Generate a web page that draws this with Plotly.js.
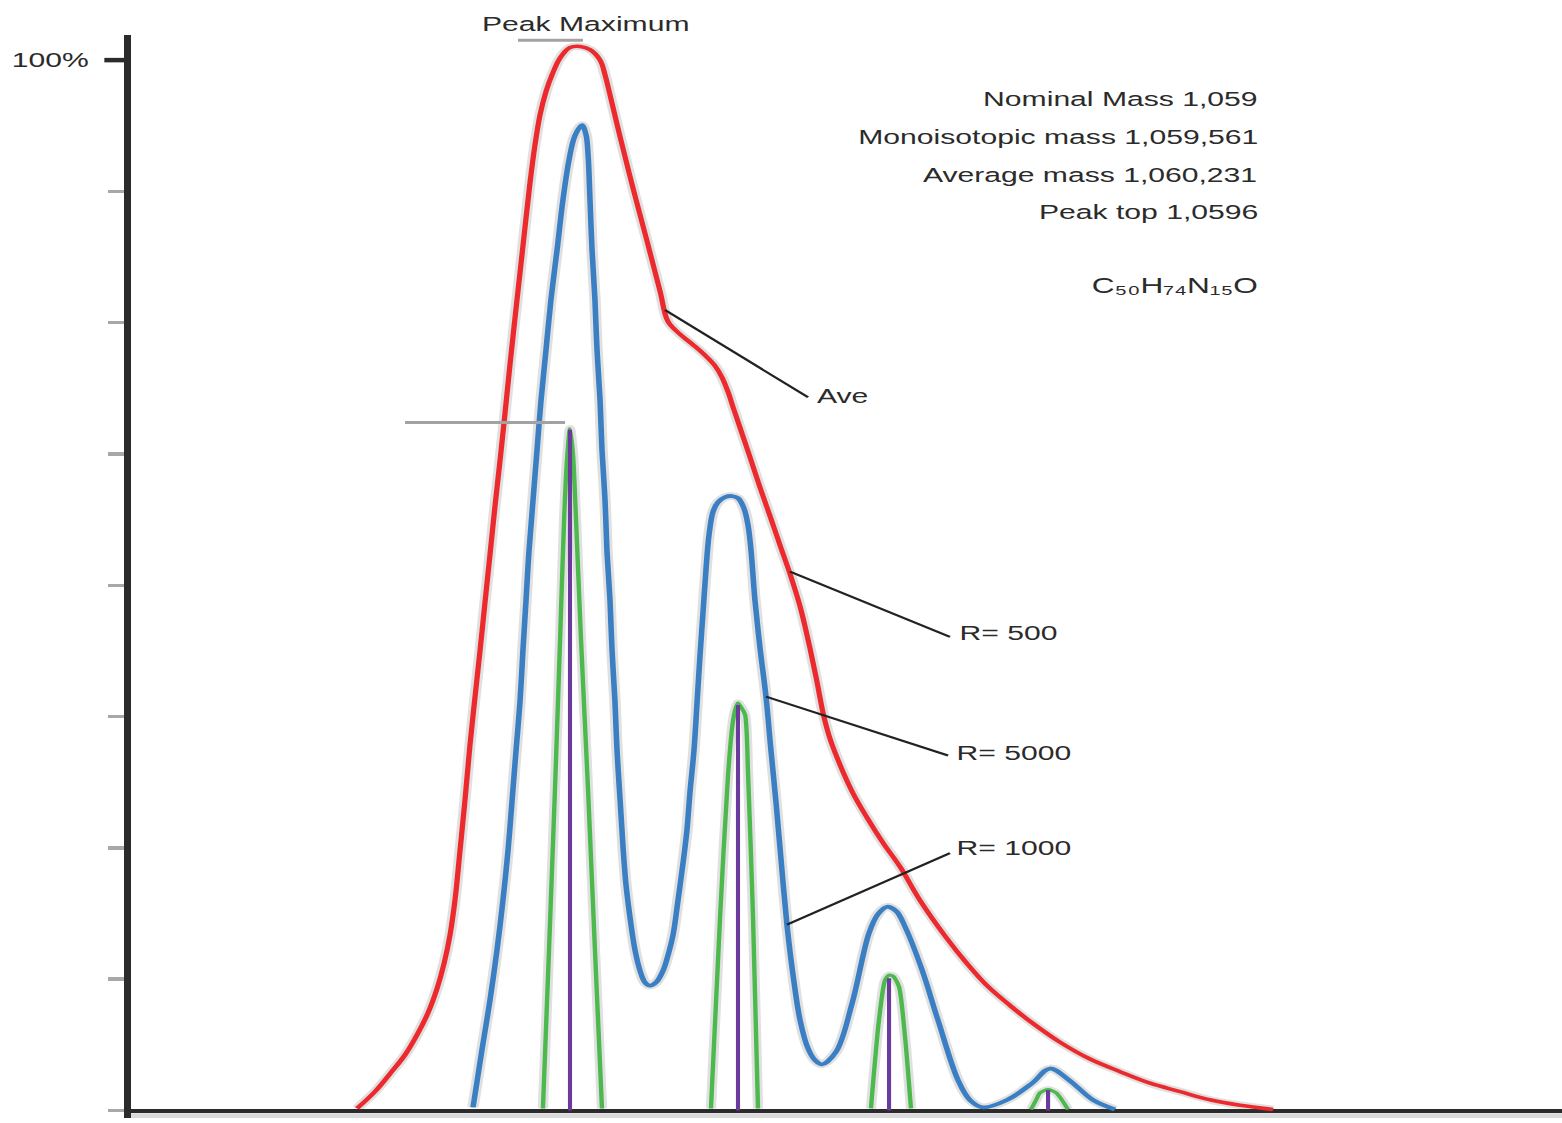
<!DOCTYPE html>
<html>
<head>
<meta charset="utf-8">
<script src="https://cdn.plot.ly/plotly-3.0.1.min.js"></script>
<style>
html,body{margin:0;padding:0;background:#fff;overflow:hidden}
#chart{width:1063px;height:1123px;transform:scaleX(1.46943);transform-origin:0 0}
</style>
</head>
<body>
<div id="chart"></div>
<script>
// ---- data (x: m/z, y: relative intensity %) ----
const redMz = [1058.230,1058.342,1058.436,1058.530,1058.605,1058.674,1058.730,1058.774,1058.811,1058.842,1058.874,1058.905,1058.936,1058.967,1058.999,1059.030,1059.061,1059.092,1059.124,1059.155,1059.186,1059.217,1059.249,1059.280,1059.311,1059.342,1059.374,1059.411,1059.449,1059.499,1059.561,1059.624,1059.686,1059.749,1059.780,1059.811,1059.874,1059.955,1060.042,1060.124,1060.174,1060.249,1060.330,1060.405,1060.467,1060.511,1060.549,1060.586,1060.624,1060.686,1060.749,1060.811,1060.874,1060.936,1060.999,1061.061,1061.105,1061.142,1061.186,1061.249,1061.330,1061.417,1061.517,1061.624,1061.749,1061.911,1062.042,1062.167,1062.311,1062.436,1062.624,1062.811,1062.999,1063.186,1063.374,1063.567,1063.749,1063.955];
const redPct = [0.2,1.8,3.5,5.3,7.2,9.3,11.6,14.0,16.7,20.0,24.8,29.6,34.8,39.3,43.8,48.4,52.9,57.5,61.9,66.4,71.0,75.4,79.8,84.1,88.3,91.9,94.8,97.0,98.6,100.2,101.2,101.3,101.0,100.0,98.6,96.7,92.7,87.8,82.8,78.0,75.1,73.9,72.9,71.9,70.9,69.8,68.4,66.7,65.0,62.2,59.3,56.6,53.8,51.1,48.0,44.0,40.8,37.9,35.4,32.9,30.2,27.9,25.5,23.2,20.0,16.5,14.0,11.9,10.0,8.5,6.5,4.9,3.7,2.6,1.8,1.0,0.5,0.1];

const blueMz = [1058.955,1059.011,1059.061,1059.105,1059.142,1059.174,1059.199,1059.224,1059.249,1059.267,1059.286,1059.305,1059.330,1059.355,1059.380,1059.411,1059.442,1059.480,1059.517,1059.555,1059.592,1059.636,1059.661,1059.674,1059.686,1059.699,1059.717,1059.730,1059.749,1059.761,1059.780,1059.792,1059.811,1059.824,1059.842,1059.855,1059.874,1059.892,1059.911,1059.936,1059.967,1059.999,1060.030,1060.061,1060.099,1060.142,1060.174,1060.205,1060.236,1060.267,1060.292,1060.311,1060.336,1060.355,1060.374,1060.392,1060.411,1060.430,1060.455,1060.486,1060.530,1060.574,1060.611,1060.649,1060.674,1060.692,1060.717,1060.749,1060.786,1060.817,1060.849,1060.880,1060.917,1060.955,1060.999,1061.049,1061.092,1061.136,1061.224,1061.324,1061.430,1061.486,1061.542,1061.599,1061.655,1061.761,1061.861,1061.986,1062.061,1062.142,1062.292,1062.449,1062.561,1062.680,1062.830,1062.967];
const bluePct = [0.3,5.8,10.5,15.3,20.0,24.8,29.5,34.3,39.0,43.8,48.5,53.3,58.1,62.9,67.6,72.4,77.2,81.9,86.7,90.5,92.8,93.8,92.9,91.0,86.7,81.9,77.2,72.4,67.6,62.9,58.1,53.3,48.6,43.8,39.0,34.3,29.6,25.2,21.5,18.4,15.3,13.3,12.2,11.9,12.2,13.3,14.8,16.7,20.0,23.5,26.7,30.3,34.3,38.8,43.4,47.3,51.5,54.8,57.0,57.9,58.4,58.5,58.3,57.3,55.7,53.4,48.6,44.0,39.4,34.3,29.3,23.9,17.7,12.9,8.6,5.9,4.8,4.4,5.6,10.2,16.9,18.7,19.4,19.0,17.5,13.4,8.6,2.9,1.0,0.3,1.0,2.6,4.0,2.9,1.0,0.1];

const greenMz = [1059.392,1059.430,1059.467,1059.499,1059.524,1059.542,1059.561,1059.580,1059.599,1059.630,1059.674,1059.717,1059.761,null,
                 1060.442,1060.499,1060.549,1060.580,1060.599,1060.611,1060.630,1060.655,1060.674,1060.705,1060.736,null,
                 1061.442,1061.492,1061.530,1061.555,1061.580,1061.617,1061.655,1061.692,null,
                 1062.442,1062.474,1062.499,1062.549,1062.599,1062.636,1062.674];
const greenPct = [0.2,15.3,30.5,44.8,56.2,61.9,64.9,62.4,56.2,44.8,30.5,15.3,0.2,null,
                  0.2,18.4,32.0,37.1,38.4,38.8,38.4,37.7,32.0,18.4,0.2,null,
                  0.2,8.6,12.4,12.9,12.8,11.8,7.0,0.2,null,
                  0.1,1.0,1.7,2.0,1.7,1.0,0.1];

const stickMz = [1059.561, 1060.611, 1061.555, 1062.549];
const stickPct = [64.8, 38.6, 12.6, 1.95];

const yTickVals = [0, 12.5, 25, 37.5, 50, 62.5, 75, 87.5];
const topTickLabel = "100%";

const infoLines = ["Nominal Mass 1,059", "Monoisotopic mass 1,059,561", "Average mass 1,060,231", "Peak top 1,0596", "C\u2085\u2080H\u2087\u2084N\u2081\u2085O"];
const infoPct = [96.3, 92.7, 89.1, 85.6, 78.5];
const infoSize = [20.5, 20.5, 20.5, 20.5, 21.5];

const labelText = ["Ave", "R= 500", "R= 5000", "R= 1000"];
const labelMz   = [1061.111, 1061.999, 1061.980, 1061.980];
const labelPct  = [68.1, 45.5, 34.1, 25.0];
// leader lines: from curve point to label
const leaderFromMz  = [1060.155, 1060.936, 1060.786, 1060.917];
const leaderFromPct = [76.2, 51.3, 39.4, 17.7];
const leaderToMz    = [1061.049, 1061.936, 1061.924, 1061.936];
const leaderToPct   = [67.9, 45.1, 33.8, 24.5];

// ---- build ----
const FONT = "Liberation Sans, Arial, Helvetica, sans-serif";
const TXT = "#2b2b2b";
const FS = 20.5;

function shadow(x, y, w, sm) {
  return {x, y, type: "scatter", mode: "lines", hoverinfo: "skip",
    line: {color: "rgba(70,70,70,0.17)", width: w + 4, shape: "spline", smoothing: sm}};
}
function curve(x, y, color, w, sm) {
  return {x, y, type: "scatter", mode: "lines", hoverinfo: "skip",
    line: sm ? {color, width: w, shape: "spline", smoothing: sm} : {color, width: w, shape: "linear"}};
}

const stickX = stickMz.flatMap(m => [m, m, null]);
const stickY = stickPct.flatMap(h => [0, h, null]);

const traces = [
  shadow(redMz, redPct, 3.6, 1.0),
  shadow(blueMz, bluePct, 3.8, 1.0),
  shadow(greenMz, greenPct, 3.0, 0.7),
  curve(redMz, redPct, "#ec2a2d", 3.6, 1.0),
  curve(blueMz, bluePct, "#3a7fc3", 3.8, 1.0),
  curve(greenMz, greenPct, "#4cb94d", 3.0, 0.7),
  curve(stickX, stickY, "#6a3a9c", 2.8, 0)
];

const shapes = [
  // dark 100% tick
  {type: "line", xref: "paper", yref: "y", xsizemode: "pixel", xanchor: 0, x0: -18, x1: -3, y0: 100, y1: 100,
   line: {color: "#2b2b2b", width: 4.5}},
  // gray helper lines
  {type: "line", xref: "x", yref: "y", x0: 1059.236, x1: 1059.642, y0: 101.9, y1: 101.9, line: {color: "#a2a2a2", width: 3}},
  {type: "line", xref: "x", yref: "y", x0: 1058.530, x1: 1059.530, y0: 65.5, y1: 65.5, line: {color: "#a2a2a2", width: 3}},
  // soft shadow under x axis
  {type: "line", xref: "paper", yref: "y", x0: 0, x1: 1, y0: -0.5, y1: -0.5, line: {color: "rgba(150,150,150,0.35)", width: 5}, layer: "below"}
];
for (let i = 0; i < labelText.length; i++) {
  shapes.push({type: "line", xref: "x", yref: "y", x0: leaderFromMz[i], y0: leaderFromPct[i], x1: leaderToMz[i], y1: leaderToPct[i],
    line: {color: "#222", width: 2}, layer: "above"});
}

const annotations = [
  {xref: "paper", x: 0, xshift: -27, xanchor: "right", yref: "y", y: 100, yshift: 1, yanchor: "middle",
   text: topTickLabel, showarrow: false, font: {family: FONT, size: FS, color: TXT}},
  {xref: "x", x: 1059.655, xanchor: "center", yref: "y", y: 102.3, yshift: 12, yanchor: "middle",
   text: "Peak Maximum", showarrow: false, font: {family: FONT, size: FS, color: TXT}}
];
infoLines.forEach((t, i) => annotations.push({xref: "x", x: 1063.855, xshift: 3, xanchor: "right", yref: "y", y: infoPct[i], yanchor: "middle",
  text: t, showarrow: false, font: {family: FONT, size: infoSize[i], color: TXT}}));
labelText.forEach((t, i) => annotations.push({xref: "x", x: labelMz[i], xshift: -2.5, xanchor: "left", yref: "y", y: labelPct[i], yanchor: "middle",
  text: t, showarrow: false, font: {family: FONT, size: FS, color: TXT}}));

const layout = {
  width: 1063, height: 1123, autosize: false,
  margin: {l: 89, r: 0, t: 35, b: 5, pad: 0},
  paper_bgcolor: "#ffffff", plot_bgcolor: "#ffffff",
  showlegend: false,
  font: {family: FONT, color: TXT},
  xaxis: {range: [1056.816, 1065.761], visible: false, fixedrange: true},
  yaxis: {range: [-0.71, 102.39], showgrid: false, fixedrange: true,
    showline: true, linecolor: "#2b2b2b", linewidth: 4.5,
    zeroline: true, zerolinecolor: "#2b2b2b", zerolinewidth: 4,
    ticks: "outside", tickmode: "array", tickvals: yTickVals, ticklen: 11, tickwidth: 3.5, tickcolor: "#a8a8a8",
    showticklabels: false},
  shapes, annotations
};

Plotly.newPlot("chart", traces, layout, {displayModeBar: false, staticPlot: true});
</script>
</body>
</html>
